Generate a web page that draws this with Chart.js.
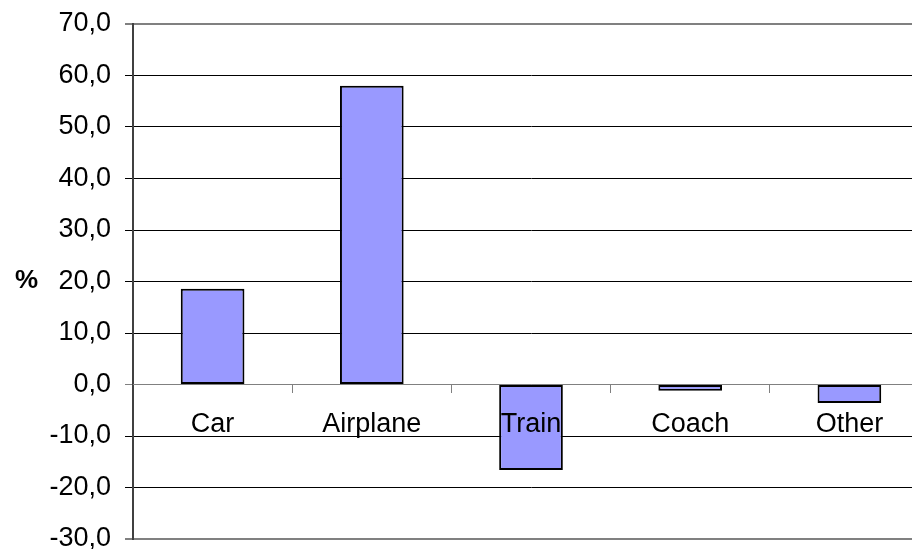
<!DOCTYPE html>
<html>
<head>
<meta charset="utf-8">
<script src="https://cdn.jsdelivr.net/npm/chart.js@4/dist/chart.umd.min.js"></script>
<style>
  html, body { margin: 0; padding: 0; background: #ffffff; overflow: hidden; }
  #wrap { width: 912px; height: 549px; overflow: hidden; position: relative; }
  canvas { display: block; }
</style>
</head>
<body>
<div id="wrap"><canvas id="c" width="932" height="562"></canvas></div>
<script>
const categories = ['Car', 'Airplane', 'Train', 'Coach', 'Other'];
const values = [18.6, 58.0, -16.6, -1.2, -3.6];
const yMin = -30;
const yMax = 70;
const yStep = 10;
const yTitle = '%';

const FONT = '"Liberation Sans", Arial, sans-serif';

const unitLabel = {
  id: 'unitLabel',
  afterDraw(chart) {
    const { ctx, chartArea } = chart;
    ctx.save();
    ctx.font = 'bold 26px ' + FONT;
    ctx.fillStyle = '#000000';
    ctx.textAlign = 'center';
    ctx.textBaseline = 'middle';
    ctx.fillText(yTitle, 26.5, (chartArea.top + chartArea.bottom) / 2 - 1);
    ctx.restore();
  }
};

new Chart(document.getElementById('c'), {
  type: 'bar',
  data: {
    labels: categories,
    datasets: [{
      data: values,
      backgroundColor: '#9999FF',
      borderColor: '#000000',
      borderWidth: 2,
      borderSkipped: false,
      barPercentage: 0.4,
      categoryPercentage: 1.0
    }]
  },
  options: {
    responsive: false,
    animation: false,
    devicePixelRatio: 1,
    layout: { padding: { top: 24, bottom: 23, left: 0, right: 3 } },
    plugins: {
      legend: { display: false },
      tooltip: { enabled: false },
      title: { display: false }
    },
    scales: {
      x: {
        type: 'category',
        position: { y: 0 },
        offset: true,
        grid: {
          offset: true,
          drawOnChartArea: false,
          drawTicks: true,
          tickLength: 8,
          color: (c) => c.index === 0 ? 'rgba(0,0,0,0)' : '#808080',
          lineWidth: 1,
          z: 1
        },
        border: { display: true, color: '#808080', width: 1, z: 1 },
        ticks: {
          color: '#000000',
          font: { family: FONT, size: 27 },
          padding: 16,
          maxRotation: 0,
          autoSkip: false,
          z: 2
        }
      },
      y: {
        min: yMin,
        max: yMax,
        afterFit(scale) {
          scale.width = 133;
          scale.paddingTop = 0;
          scale.paddingBottom = 0;
        },
        grid: {
          color: (c) => (c.tick && (c.tick.value === yMax || c.tick.value === yMin || c.tick.value === 0)) ? '#808080' : '#000000',
          lineWidth: (c) => (c.tick && (c.tick.value === yMax || c.tick.value === yMin)) ? 2 : 1,
          tickLength: 8,
          drawTicks: true
        },
        border: { display: true, color: '#404040', width: 2 },
        ticks: {
          stepSize: yStep,
          color: '#000000',
          font: { family: FONT, size: 27 },
          padding: 14,
          callback: (v) => Number(v).toFixed(1).replace('.', ',')
        }
      }
    }
  },
  plugins: [unitLabel]
});
</script>
</body>
</html>
